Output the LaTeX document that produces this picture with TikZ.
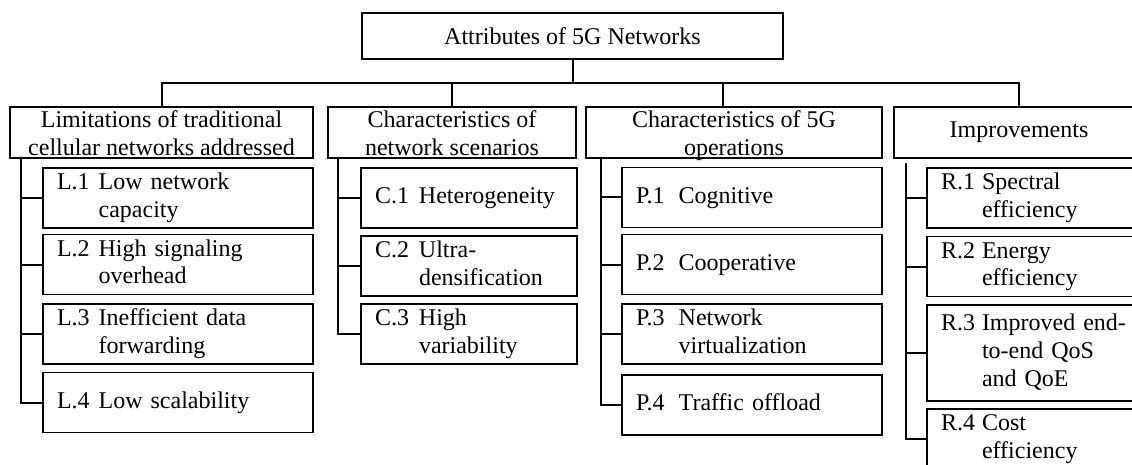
\documentclass[tikz,border=0pt]{standalone}
\usepackage{fontspec}
\setmainfont{Liberation Serif}
\usepackage{tikz}
\newcommand{\ent}[3][10pt]{\begin{tabular}{@{}l@{\hspace{#1}}l@{}}#2 & #3\end{tabular}}
\newcommand{\two}[2]{\begin{tabular}[t]{@{}c@{}}#1\\#2\end{tabular}}
\tikzstyle{box}=[draw, line width=1.3pt, inner sep=0pt]
\tikzstyle{head}=[box, minimum height=51pt]
\tikzstyle{twoline}=[text height=21pt, text depth=30pt]
\tikzstyle{cell}=[box, inner xsep=14pt, align=left, minimum height=60pt]
\tikzstyle{link}=[line width=2pt]

\begin{document}
\begin{tikzpicture}[x=1pt, y=-1pt, font=\fontsize{24pt}{27.6pt}\selectfont]
  \useasboundingbox (0,0) rectangle (1132,465);
  \clip (0,0) rectangle (1132,465);
  \fill[white] (0,0) rectangle (1132,465);

  \node[box, minimum width=421pt, minimum height=46pt] (top) at (572.5,36) {Attributes of 5G Networks};
  \coordinate (bus) at (571,83);

  % second level
  \node[head, twoline, minimum width=303pt] (h1) at (161.5,132.5) {\two{Limitations of traditional}{cellular networks addressed}};
  \node[head, twoline, minimum width=248pt] (h2) at (452,132.5) {\two{Characteristics of}{network scenarios}};
  \node[head, twoline, minimum width=296pt] (h3) at (734,132.5) {\two{Characteristics of 5G}{operations}};
  \node[head, minimum width=250pt] (h4) at (1019,132.5) {Improvements};

  % limitations
  \node[cell, text width=242pt] (l1) at (178,198) {\ent[9pt]{L.1}{Low network\\ & capacity}};
  \node[cell, text width=242pt] (l2) at (178,264.5) {\ent[9pt]{L.2}{High signaling\\ & overhead}};
  \node[cell, text width=242pt] (l3) at (178,334) {\ent[9pt]{L.3}{Inefficient data\\ & forwarding}};
  \node[cell, text width=242pt] (l4) at (178,402.5) {\ent[9pt]{L.4}{Low scalability}};

  % scenarios
  \node[cell, text width=188pt] (c1) at (469,198) {\ent{C.1}{Heterogeneity}};
  \node[cell, text width=188pt] (c2) at (469,266) {\ent{C.2}{Ultra-\\ & densification}};
  \node[cell, text width=188pt] (c3) at (469,334) {\ent{C.3}{High\\ & variability}};

  % operations
  \node[cell, text width=232pt] (p1) at (752,197.5) {\ent[14pt]{P.1}{Cognitive}};
  \node[cell, text width=232pt] (p2) at (752,264.5) {\ent[14pt]{P.2}{Cooperative}};
  \node[cell, text width=232pt] (p3) at (752,334) {\ent[14pt]{P.3}{Network\\ & virtualization}};
  \node[cell, text width=232pt] (p4) at (752,405) {\ent[14pt]{P.4}{Traffic offload}};

  % improvements
  \node[cell, text width=189pt] (r1) at (1035.5,198) {\ent[7pt]{R.1}{Spectral\\ & efficiency}};
  \node[cell, text width=189pt] (r2) at (1035.5,266.5) {\ent[7pt]{R.2}{Energy\\ & efficiency}};
  \node[cell, text width=189pt, minimum height=96pt] (r3) at (1035.5,353) {\ent[7pt]{R.3}{Improved end-\\ & to-end QoS\\ & and QoE}};
  \node[cell, text width=189pt] (r4) at (1035.5,439) {\ent[7pt]{R.4}{Cost\\ & efficiency}};

  % bus
  \draw[link] (top.south) -- (top.south |- bus);
  \draw[link] (h1.north) -- (h1.north |- bus) -- (h4.north |- bus) -- (h4.north);
  \draw[link] (h2.north) -- (h2.north |- bus);
  \draw[link] ([xshift=-11pt]h3.north) -- ([xshift=-11pt]h3.north |- bus);

  % spines
  \coordinate (s1) at ([xshift=12pt]h1.south west);
  \coordinate (s2) at ([xshift=11pt]h2.south west);
  \coordinate (s3) at ([xshift=16pt]h3.south west);
  \coordinate (s4) at ([xshift=13pt, yshift=-4pt]h4.south west);
  \draw[link] (s1) |- (l4.west);
  \foreach \n in {l1,l2,l3} \draw[link] (\n.west) -- (\n.west -| s1);
  \draw[link] (s2) |- (c3.west);
  \foreach \n in {c1,c2} \draw[link] (\n.west) -- (\n.west -| s2);
  \draw[link] (s3) |- (p4.west);
  \foreach \n in {p1,p2,p3} \draw[link] (\n.west) -- (\n.west -| s3);
  \draw[link] (s4) |- (r4.west);
  \foreach \n in {r1,r2,r3} \draw[link] (\n.west) -- (\n.west -| s4);
\end{tikzpicture}
\end{document}
